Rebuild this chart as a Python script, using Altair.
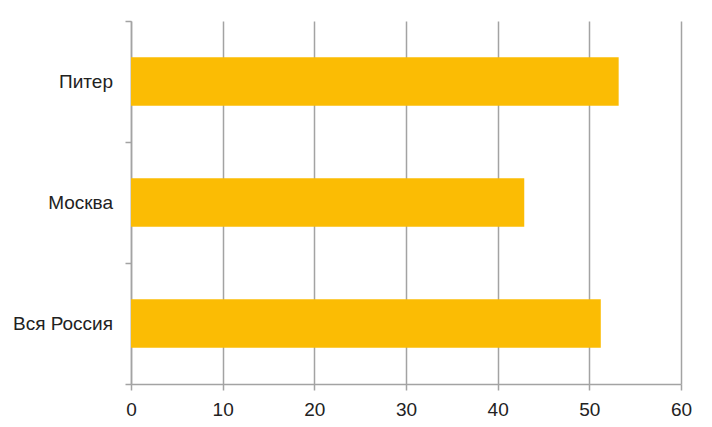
import altair as alt
import pandas as pd

categories = ["Питер", "Москва", "Вся Россия"]
values = [53.2, 42.9, 51.25]
x_ticks = [0, 10, 20, 30, 40, 50, 60]

df = pd.DataFrame({"region": categories, "value": values})

GRAY = "#a3a3a3"
TEXT = "#222222"

chart = alt.Chart(df).mark_bar(
    color="#FBBC04", height=alt.RelativeBandSize(0.4)
).encode(
    x=alt.X(
        "value:Q",
        scale=alt.Scale(domain=[0, 60], nice=False),
        axis=alt.Axis(
            values=x_ticks,
            title=None,
            grid=True,
            gridColor=GRAY,
            gridWidth=1.5,
            domainColor=GRAY,
            domainWidth=1.5,
            tickColor=GRAY,
            tickWidth=1.5,
            tickSize=6,
            labelFlush=False,
            labelFont="Liberation Sans",
            labelFontSize=19,
            labelColor=TEXT,
            labelPadding=10,
        ),
    ),
    y=alt.Y(
        "region:N",
        sort=None,
        scale=alt.Scale(paddingInner=0, paddingOuter=0),
        axis=alt.Axis(
            title=None,
            grid=False,
            domainColor=GRAY,
            domainWidth=1.5,
            tickColor=GRAY,
            tickWidth=1.5,
            tickSize=6,
            tickBand="extent",
            labelFont="Liberation Sans",
            labelFontSize=19,
            labelColor=TEXT,
            labelPadding=12.5,
        ),
    ),
).properties(
    width=550,
    height=363,
    autosize=alt.AutoSizeParams(type="none"),
    padding={"left": 123, "top": 13, "right": 22, "bottom": 40},
).configure_view(stroke=None)

chart.save("out.html", embed_options={"renderer": "svg", "actions": False})
